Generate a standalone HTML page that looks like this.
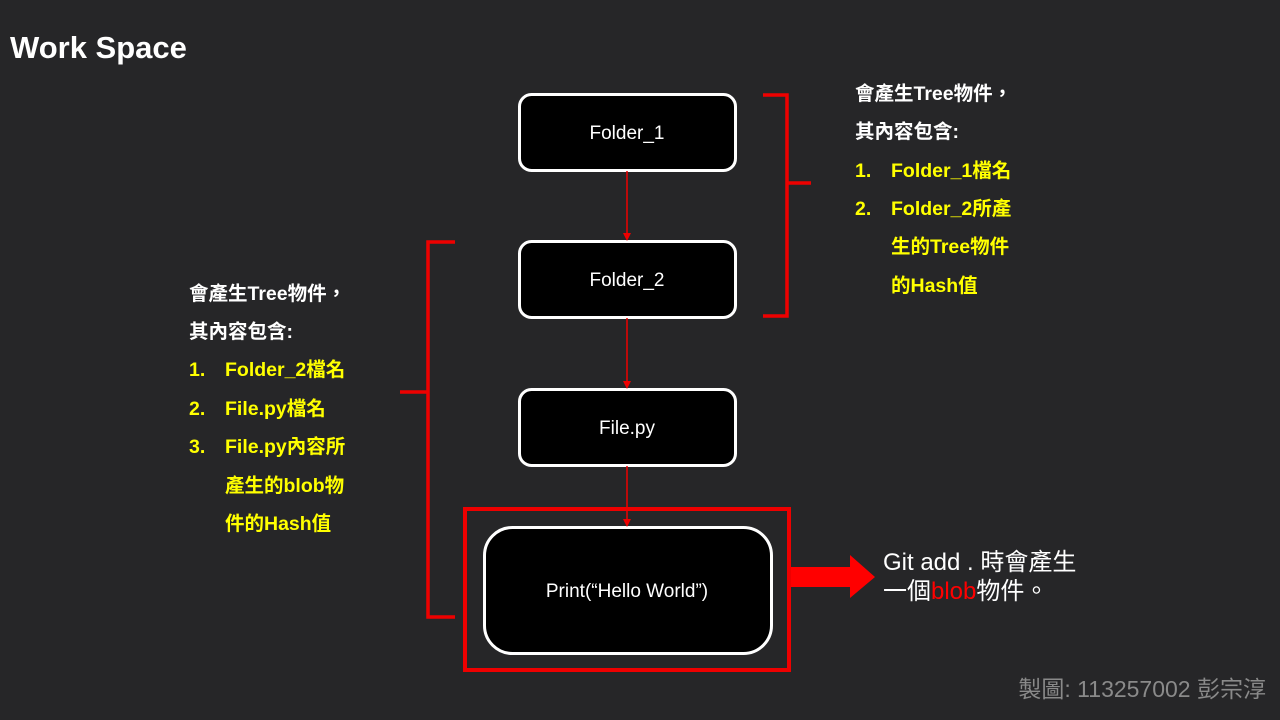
<!DOCTYPE html>
<html><head><meta charset="utf-8"><style>
body{margin:0;background:#262628;}
svg{display:block}
text{font-family:"Liberation Sans","Noto Sans CJK TC",sans-serif;}
.b{font-weight:bold;font-size:19.5px;}
</style></head><body>
<svg width="1280" height="720" viewBox="0 0 1280 720">
<rect width="1280" height="720" fill="#262628"/>
<text x="10" y="58" fill="#fff" font-size="31" font-weight="bold">Work Space</text>
<g fill="#000" stroke="#fff" stroke-width="3">
<rect x="519.5" y="94.5" width="216" height="76" rx="12"/>
<rect x="519.5" y="241.5" width="216" height="76" rx="12"/>
<rect x="519.5" y="389.5" width="216" height="76" rx="12"/>
<rect x="484.5" y="527.5" width="287" height="126" rx="28"/>
</g>
<g fill="#fff" font-size="19" text-anchor="middle">
<text x="627" y="139">Folder_1</text>
<text x="627" y="286">Folder_2</text>
<text x="627" y="434">File.py</text>
<text x="627" y="597">Print(“Hello World”)</text>
</g>
<g stroke="#e00" stroke-width="1.5">
<line x1="627" y1="171" x2="627" y2="234"/>
<line x1="627" y1="318" x2="627" y2="382"/>
<line x1="627" y1="466" x2="627" y2="520"/>
</g>
<g fill="#e00">
<polygon points="623,233 631,233 627,241"/>
<polygon points="623,381 631,381 627,389"/>
<polygon points="623,519 631,519 627,527"/>
</g>
<rect x="465" y="509" width="324" height="161" fill="none" stroke="#e00" stroke-width="4"/>
<g fill="none" stroke="#e00" stroke-width="3.5">
<polyline points="763,95 787,95 787,316 763,316"/>
<line x1="787" y1="183" x2="811" y2="183"/>
<polyline points="455,242 428,242 428,617 455,617"/>
<line x1="400" y1="392" x2="428" y2="392"/>
</g>
<polygon points="791,567 850,567 850,555 875,577 850,598 850,587 791,587" fill="#f00"/>
<g class="b" fill="#fff">
<text x="855" y="100">會產生Tree物件，</text>
<text x="855" y="138">其內容包含:</text>
<text x="189" y="300">會產生Tree物件，</text>
<text x="189" y="338">其內容包含:</text>
</g>
<g class="b" fill="#ffff00">
<text x="855" y="177">1.</text><text x="891" y="177">Folder_1檔名</text>
<text x="855" y="215">2.</text><text x="891" y="215">Folder_2所產</text>
<text x="891" y="253">生的Tree物件</text>
<text x="891" y="292">的Hash值</text>
<text x="189" y="376">1.</text><text x="225" y="376">Folder_2檔名</text>
<text x="189" y="415">2.</text><text x="225" y="415">File.py檔名</text>
<text x="189" y="453">3.</text><text x="225" y="453">File.py內容所</text>
<text x="225" y="492">產生的blob物</text>
<text x="225" y="530">件的Hash值</text>
</g>
<text x="883" y="570" fill="#fff" font-size="24">Git add . 時會產生</text>
<text x="883" y="599" fill="#fff" font-size="24">一個<tspan fill="#f00">blob</tspan>物件。</text>
<text x="1266" y="697" fill="#8a8a8a" font-size="23" text-anchor="end">製圖: 113257002 彭宗淳</text>
</svg>
</body></html>
